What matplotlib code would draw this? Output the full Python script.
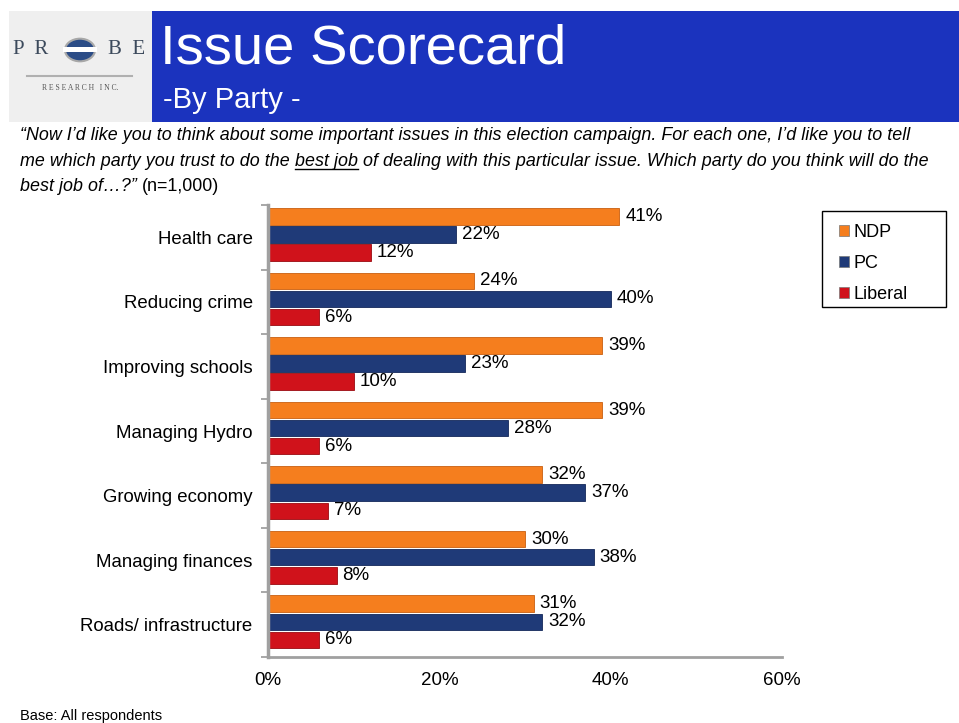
import numpy as np
import matplotlib
matplotlib.use('Agg')
import matplotlib.pyplot as plt
from matplotlib.patches import Rectangle, Circle, Patch
from matplotlib.lines import Line2D

plt.rcParams['font.family'] = ['Liberation Sans', 'DejaVu Sans']

issues = ['Health care', 'Reducing crime', 'Improving schools', 'Managing Hydro',
          'Growing economy', 'Managing finances', 'Roads/ infrastructure']
ndp = [41, 24, 39, 39, 32, 30, 31]
pc = [22, 40, 23, 28, 37, 38, 32]
liberal = [12, 6, 10, 6, 7, 8, 6]
parties = ['NDP', 'PC', 'Liberal']
xticks = [0, 20, 40, 60]

c_ndp = '#F57E1E'
c_pc = '#1F3A78'
c_lib = '#D0121B'

W, H = 959, 723
fig = plt.figure(figsize=(W / 100, H / 100), dpi=100)

def fx(px):
    return px / W

def fy(py):
    return 1 - py / H

# ---------- header ----------
fig.patches.append(Rectangle((fx(9), fy(122)), fx(143), (111) / H, transform=fig.transFigure,
                             facecolor='#EFEFEF', edgecolor='none'))
fig.patches.append(Rectangle((fx(152), fy(122)), fx(807), (111) / H, transform=fig.transFigure,
                             facecolor='#1B33BE', edgecolor='none'))
fig.text(fx(160), fy(49), 'Issue Scorecard', color='white', fontsize=40.5, va='center', ha='left')
fig.text(fx(163), fy(100), '-By Party -', color='white', fontsize=21, va='center', ha='left')

# logo
fig.text(fx(13), fy(50), 'P  R', family='Liberation Serif', fontsize=15, color='#3C4A5C', va='center')
fig.text(fx(108), fy(50), 'B  E', family='Liberation Serif', fontsize=15, color='#3C4A5C', va='center')
fig.patches.append(Circle((fx(80), fy(50)), 15 / W, transform=fig.transFigure,
                          facecolor='#2B4C86', edgecolor='#A8A8A8', linewidth=1.5))
fig.patches.append(Rectangle((fx(63), fy(52)), 34 / W, 5 / H, transform=fig.transFigure,
                             facecolor='white', edgecolor='none'))
fig.lines.append(Line2D([fx(27), fx(132)], [fy(76), fy(76)], transform=fig.transFigure,
                        color='#B0B0B0', linewidth=1.5))
fig.text(fx(80), fy(88), 'R E S E A R C H   I N C.', family='Liberation Serif', fontsize=5.5,
         color='#555555', ha='center', va='center')

# ---------- question text ----------
qfont = dict(family=['Liberation Sans Narrow', 'Liberation Sans'], fontsize=12.9,
             color='black', va='baseline')
fig.text(fx(20), fy(140), '\u201cNow I\u2019d like you to think about some important issues in this election '
         'campaign. For each one, I\u2019d like you to tell', style='italic', **qfont)
t1 = fig.text(fx(20), fy(166), 'me which party you trust to do the', style='italic', **qfont)
fig.canvas.draw()
r = fig.canvas.get_renderer()
sp = fig.text(0, 0, 'a a', style='italic', **qfont)
aa = fig.text(0, 0, 'aa', style='italic', **qfont)
space_w = sp.get_window_extent(r).width - aa.get_window_extent(r).width
sp.remove()
aa.remove()
x1 = t1.get_window_extent(r).x1 + space_w
t2 = fig.text(x1 / W, fy(166), 'best job', style='italic', **qfont)
bb2 = t2.get_window_extent(r)
fig.lines.append(Line2D([bb2.x0 / W, bb2.x1 / W], [fy(169), fy(169)], transform=fig.transFigure,
                        color='black', linewidth=1))
fig.text((bb2.x1 + space_w) / W, fy(166), 'of dealing with this particular issue. Which party do you '
         'think will do the', style='italic', **qfont)
t4 = fig.text(fx(20), fy(191), 'best job of\u2026?\u201d', style='italic', **qfont)
bb4 = t4.get_window_extent(r)
fig.text((bb4.x1 + space_w) / W, fy(191), '(n=1,000)', **qfont)

# ---------- chart ----------
ax = fig.add_axes([fx(268), fy(657), fx(782) - fx(268), (657 - 205) / H])
y = np.arange(len(issues))
h = 0.255
off = 0.28
shift = -0.045
ax.barh(y + shift - off, ndp, height=h, color=c_ndp, edgecolor='#C85F10', linewidth=0.6, label=parties[0])
ax.barh(y + shift, pc, height=h, color=c_pc, edgecolor='#14285A', linewidth=0.6, label=parties[1])
ax.barh(y + shift + off, liberal, height=h, color=c_lib, edgecolor='#9A0A10', linewidth=0.6, label=parties[2])

for vals, o in zip([ndp, pc, liberal], [-off, 0, off]):
    for i, v in enumerate(vals):
        ax.text(v + 0.7, i + shift + o, f'{v}%', va='center', ha='left', fontsize=13.5)

ax.set_xlim(0, 60)
ax.set_ylim(len(issues) - 0.5, -0.5)
ax.set_xticks(xticks)
ax.set_xticklabels([f'{t}%' for t in xticks], fontsize=13.5)
ax.set_yticks(y)
ax.set_yticklabels(issues, fontsize=13.4)
ax.set_yticks(np.arange(-0.5, len(issues)), minor=True)
ax.tick_params(axis='y', which='major', length=0, pad=11)
ax.tick_params(axis='y', which='minor', length=5, color='#9A9A9A', width=1.2)
ax.tick_params(axis='x', length=0, pad=11)
for s in ['top', 'right']:
    ax.spines[s].set_visible(False)
ax.spines['left'].set_color('#A0A0A0')
ax.spines['left'].set_linewidth(2.5)
ax.spines['bottom'].set_color('#A0A0A0')
ax.spines['bottom'].set_linewidth(2)

# legend
fig.patches.append(Rectangle((fx(822), fy(307)), 124 / W, 96 / H, transform=fig.transFigure,
                             facecolor='white', edgecolor='black', linewidth=1))
handles = [Patch(facecolor=c, edgecolor='#777777', linewidth=0.5) for c in [c_ndp, c_pc, c_lib]]
fig.legend(handles, parties, loc='upper left', bbox_to_anchor=(fx(826), fy(211)),
           frameon=False, fontsize=13, handlelength=0.55, handleheight=0.55,
           handletextpad=0.25, labelspacing=0.78, borderpad=0.2)

fig.text(fx(20), fy(716), 'Base: All respondents', fontsize=10.5, va='center')

fig.savefig('out.png', dpi=100)
